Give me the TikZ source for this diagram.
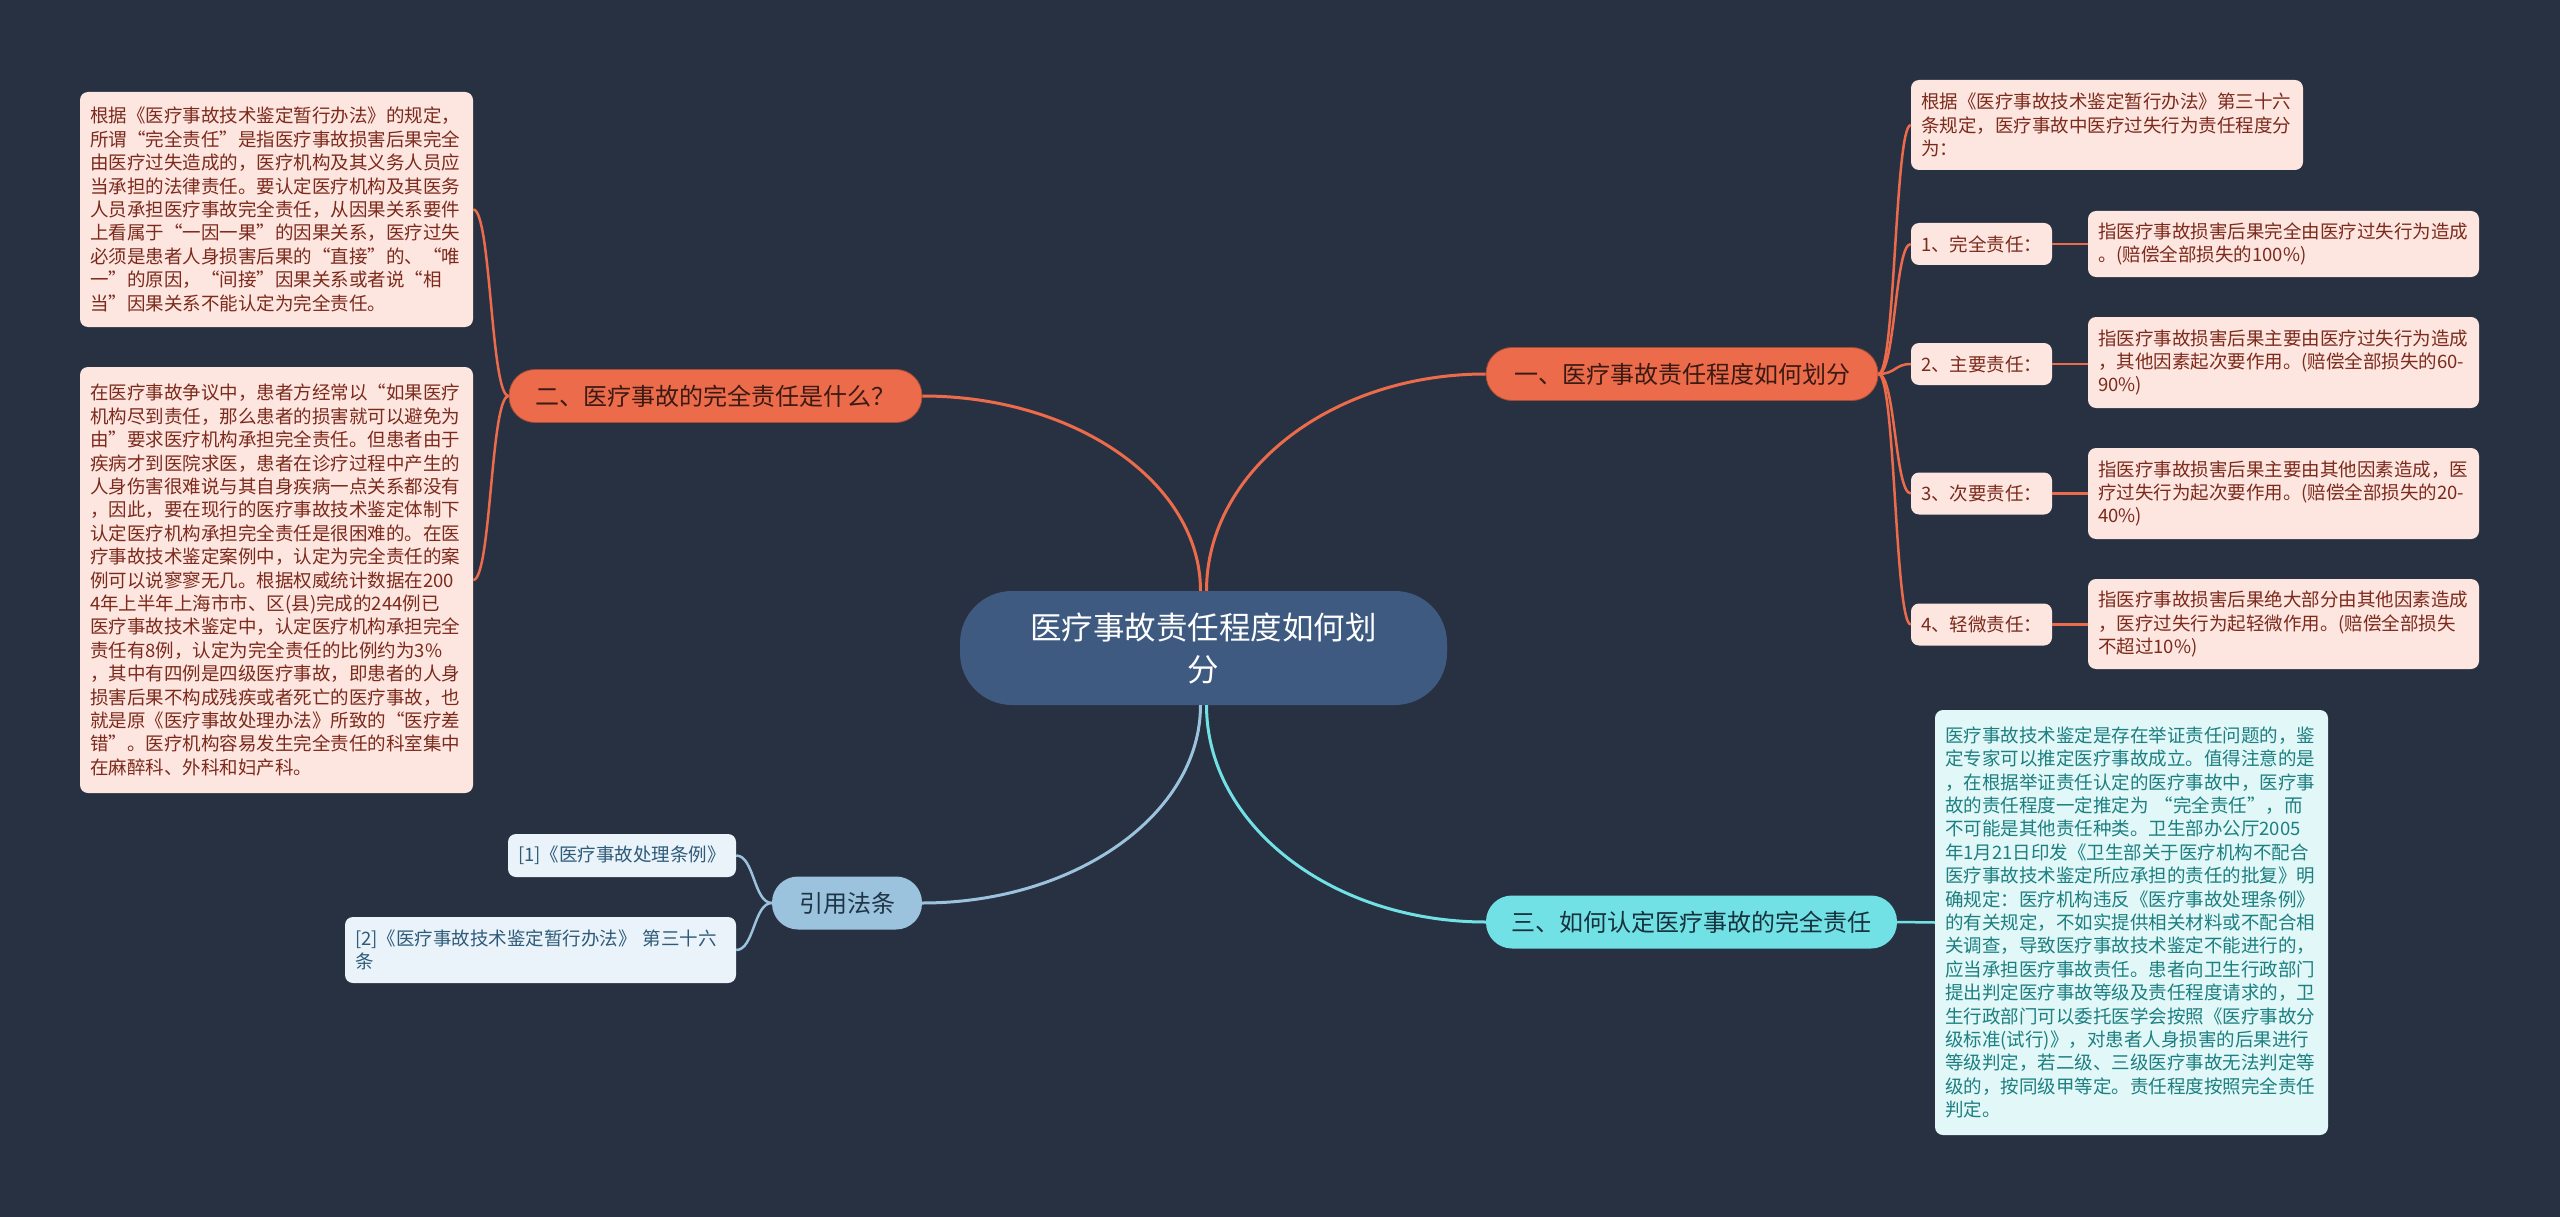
\documentclass[tikz,border=0pt]{standalone}
\usepackage{fontspec}
\setmainfont{Noto Sans CJK SC}
\definecolor{bg}{HTML}{283142}
\definecolor{cfill}{HTML}{3E5A80}
\definecolor{orng}{HTML}{EC6B4B}
\definecolor{orngtxt}{HTML}{3A1A12}
\definecolor{pinkfill}{HTML}{FDE6E0}
\definecolor{pinktxt}{HTML}{7C2A1C}
\definecolor{lblue}{HTML}{9CC3DD}
\definecolor{lbluetxt}{HTML}{1F3446}
\definecolor{lbfill}{HTML}{EAF3F9}
\definecolor{lbtxt}{HTML}{2E5B7A}
\definecolor{cyn}{HTML}{71E1E6}
\definecolor{cyntxt}{HTML}{17323C}
\definecolor{cyfill}{HTML}{E1F7F8}
\definecolor{cytxt}{HTML}{1D7F80}
\begin{document}
\begin{tikzpicture}[x=1pt,y=-1pt,
  centerbox/.style={fill=cfill, text=white, rounded corners=52pt, minimum width=487pt, minimum height=114pt, align=center, inner sep=0pt, font=\fontsize{31.5}{42}\selectfont},
  topic/.style={rounded corners=26pt, minimum height=53pt, inner sep=0pt, font=\fontsize{24}{28}\selectfont},
  orangetopic/.style={topic, fill=orng, draw=orng!70!black, line width=0.8pt, text=orngtxt},
  bluetopic/.style={topic, fill=lblue, text=lbluetxt},
  cyantopic/.style={topic, fill=cyn, text=cyntxt},
  box/.style={rounded corners=8pt, inner xsep=10pt, inner ysep=0pt, align=left, font=\fontsize{18.5}{23.4}\selectfont},
  pinkbox/.style={box, fill=pinkfill, text=pinktxt},
  bluebox/.style={box, fill=lbfill, text=lbtxt},
  cyanbox/.style={box, fill=cyfill, text=cytxt},
  oline/.style={draw=orng, line width=3pt},
  osub/.style={draw=orng, line width=2.5pt},
  bline/.style={draw=lblue, line width=3pt},
  bsub/.style={draw=lblue, line width=2.5pt},
  cline/.style={draw=cyn, line width=3pt},
]
\fill[bg] (0,0) rectangle (2560,1217);
\useasboundingbox (0,0) rectangle (2560,1217);

% central and main topics
\node[centerbox] (c) at (1203.5,648) {医疗事故责任程度如何划\\分};
\node[orangetopic, minimum width=392pt] (n1) at (1682,374) {一、医疗事故责任程度如何划分};
\node[orangetopic, minimum width=413pt] (n2) at (715.5,396) {二、医疗事故的完全责任是什么？};
\node[bluetopic, minimum width=150pt] (n3) at (847,903) {引用法条};
\node[cyantopic, minimum width=411pt] (n4) at (1691.5,922) {三、如何认定医疗事故的完全责任};

% right side children of n1
\node[pinkbox, text width=372pt, minimum height=90pt] (r0) at (2107,125) {根据《医疗事故技术鉴定暂行办法》第三十六\\条规定，医疗事故中医疗过失行为责任程度分\\为：};
\node[pinkbox, text width=121pt, minimum height=42pt] (l1) at (1981.5,244) {1、完全责任：};
\node[pinkbox, text width=371pt, minimum height=66pt] (d1) at (2283.5,244) {指医疗事故损害后果完全由医疗过失行为造成\\。(赔偿全部损失的100\%)};
\node[pinkbox, text width=121pt, minimum height=42pt] (l2) at (1981.5,364) {2、主要责任：};
\node[pinkbox, text width=371pt, minimum height=91pt] (d2) at (2283.5,362.5) {指医疗事故损害后果主要由医疗过失行为造成\\，其他因素起次要作用。(赔偿全部损失的60-\\90\%)};
\node[pinkbox, text width=121pt, minimum height=42pt] (l3) at (1981.5,493.5) {3、次要责任：};
\node[pinkbox, text width=371pt, minimum height=91pt] (d3) at (2283.5,493.5) {指医疗事故损害后果主要由其他因素造成，医\\疗过失行为起次要作用。(赔偿全部损失的20-\\40\%)};
\node[pinkbox, text width=121pt, minimum height=42pt] (l4) at (1981.5,624.5) {4、轻微责任：};
\node[pinkbox, text width=371pt, minimum height=90pt] (d4) at (2283.5,624) {指医疗事故损害后果绝大部分由其他因素造成\\，医疗过失行为起轻微作用。(赔偿全部损失\\不超过10\%)};

% left side children of n2
\node[pinkbox, text width=373pt, minimum height=235pt] (a) at (276.5,209.5) {根据《医疗事故技术鉴定暂行办法》的规定，\\所谓“完全责任”是指医疗事故损害后果完全\\由医疗过失造成的，医疗机构及其义务人员应\\当承担的法律责任。要认定医疗机构及其医务\\人员承担医疗事故完全责任，从因果关系要件\\上看属于“一因一果”的因果关系，医疗过失\\必须是患者人身损害后果的“直接”的、“唯\\一”的原因，“间接”因果关系或者说“相\\当”因果关系不能认定为完全责任。};
\node[pinkbox, text width=373pt, minimum height=426pt] (b) at (276.5,580) {在医疗事故争议中，患者方经常以“如果医疗\\机构尽到责任，那么患者的损害就可以避免为\\由”要求医疗机构承担完全责任。但患者由于\\疾病才到医院求医，患者在诊疗过程中产生的\\人身伤害很难说与其自身疾病一点关系都没有\\，因此，要在现行的医疗事故技术鉴定体制下\\认定医疗机构承担完全责任是很困难的。在医\\疗事故技术鉴定案例中，认定为完全责任的案\\例可以说寥寥无几。根据权威统计数据在200\\4年上半年上海市市、区(县)完成的244例已\\医疗事故技术鉴定中，认定医疗机构承担完全\\责任有8例，认定为完全责任的比例约为3\%\\，其中有四例是四级医疗事故，即患者的人身\\损害后果不构成残疾或者死亡的医疗事故，也\\就是原《医疗事故处理办法》所致的“医疗差\\错”。医疗机构容易发生完全责任的科室集中\\在麻醉科、外科和妇产科。};

% citations
\node[bluebox, text width=208pt, minimum height=43pt] (c1) at (622,855.5) {[1]《医疗事故处理条例》};
\node[bluebox, text width=371pt, minimum height=66pt] (c2) at (540.5,950) {[2]《医疗事故技术鉴定暂行办法》 第三十六\\条};

% child of n4
\node[cyanbox, text width=373pt, minimum height=425pt] (e) at (2131.5,922.5) {医疗事故技术鉴定是存在举证责任问题的，鉴\\定专家可以推定医疗事故成立。值得注意的是\\，在根据举证责任认定的医疗事故中，医疗事\\故的责任程度一定推定为 “完全责任”，而\\不可能是其他责任种类。卫生部办公厅2005\\年1月21日印发《卫生部关于医疗机构不配合\\医疗事故技术鉴定所应承担的责任的批复》明\\确规定：医疗机构违反《医疗事故处理条例》\\的有关规定，不如实提供相关材料或不配合相\\关调查，导致医疗事故技术鉴定不能进行的，\\应当承担医疗事故责任。患者向卫生行政部门\\提出判定医疗事故等级及责任程度请求的，卫\\生行政部门可以委托医学会按照《医疗事故分\\级标准(试行)》，对患者人身损害的后果进行\\等级判定，若二级、三级医疗事故无法判定等\\级的，按同级甲等定。责任程度按照完全责任\\判定。};

% main connectors
\path[oline] ([xshift=3pt]c.north) .. controls +(0,-120) and +(-154,0) .. (n1.west);
\path[oline] ([xshift=-3pt]c.north) .. controls +(0,-108) and +(153,0) .. (n2.east);
\path[bline] ([xshift=-3pt]c.south) .. controls +(0,109) and +(153,0) .. (n3.east);
\path[cline] ([xshift=3pt]c.south) .. controls +(0,120) and +(-154,0) .. (n4.west);

% n1 children
\foreach \t in {r0,l1,l2,l3,l4}{
  \path[osub] (n1.east) .. controls +(17,0) and +(-16,0) .. (\t.west);
}
\path[osub] (l1.east) -- (d1.west);
\path[osub] (l2.east) -- (l2.east -| d2.west);
\path[osub] (l3.east) -- (d3.west);
\path[osub] (l4.east) -- (l4.east -| d4.west);

% n2 children
\path[osub] (n2.west) .. controls +(-18,0) and +(18,0) .. (a.east);
\path[osub] (n2.west) .. controls +(-18,0) and +(18,0) .. (b.east);

% n3 children
\path[bsub] (n3.west) .. controls +(-18,0) and +(18,0) .. (c1.east);
\path[bsub] (n3.west) .. controls +(-18,0) and +(18,0) .. (c2.east);

% n4 child
\path[cline, line width=2.5pt] (n4.east) -- (e.west);
\end{tikzpicture}
\end{document}
